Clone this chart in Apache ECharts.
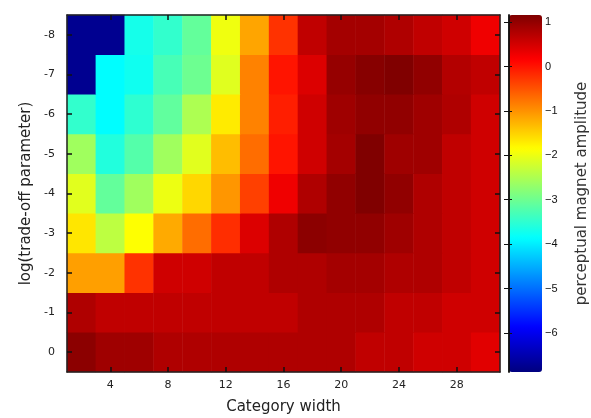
<!DOCTYPE html>
<html>
<head>
<meta charset="utf-8">
<script src="https://cdn.jsdelivr.net/npm/echarts@6/dist/echarts.min.js"></script>
<style>html,body{margin:0;padding:0;background:#fff;}#c{width:591px;height:418px;}</style>
</head>
<body>
<div id="c"></div>
<script>
// Category widths (column centres)
var widths = [2, 4, 6, 8, 10, 12, 14, 16, 18, 20, 22, 24, 26, 28, 30];
// log(trade-off parameter), bottom to top
var logParams = ['0', '-1', '-2', '-3', '-4', '-5', '-6', '-7', '-8'];
// rows of perceptual magnet amplitude, one array per log parameter
var row0  = [1.06, 0.91, 0.91, 0.78, 0.78, 0.78, 0.78, 0.78, 0.78, 0.78, 0.65, 0.65, 0.53, 0.53, 0.39];
var rowM1 = [0.78, 0.65, 0.65, 0.65, 0.65, 0.65, 0.65, 0.65, 0.78, 0.78, 0.78, 0.65, 0.65, 0.53, 0.53];
var rowM2 = [-1.1, -1.1, -0.24, 0.53, 0.53, 0.65, 0.65, 0.78, 0.78, 0.87, 0.87, 0.78, 0.78, 0.65, 0.53];
var rowM3 = [-1.66, -2.37, -1.86, -1.19, -0.71, -0.2, 0.43, 0.78, 1.06, 1.02, 1.02, 0.91, 0.78, 0.65, 0.53];
var rowM4 = [-2.09, -3.08, -2.6, -2.0, -1.54, -1.03, -0.35, 0.27, 0.78, 1.02, 1.15, 1.02, 0.78, 0.65, 0.53];
var rowM5 = [-2.6, -3.6, -3.2, -2.6, -2.09, -1.34, -0.71, 0.0, 0.53, 0.87, 1.15, 0.91, 0.91, 0.65, 0.53];
var rowM6 = [-3.47, -3.87, -3.5, -3.1, -2.5, -1.7, -0.87, -0.08, 0.53, 0.91, 1.02, 1.02, 0.91, 0.78, 0.53];
var rowM7 = [-6.75, -3.87, -3.75, -3.3, -3.0, -2.1, -0.87, 0.0, 0.43, 0.98, 1.1, 1.15, 1.02, 0.75, 0.65];
var rowM8 = [-6.75, -6.75, -3.7, -3.47, -3.08, -1.97, -1.15, -0.24, 0.65, 0.87, 0.87, 0.78, 0.65, 0.53, 0.27];
var rows = [row0, rowM1, rowM2, rowM3, rowM4, rowM5, rowM6, rowM7, rowM8];
// x tick labels shown
var xTickLabels = [4, 8, 12, 16, 20, 24, 28];
// colour bar range and ticks
var cMin = -6.88, cMax = 1.16;
var cTicks = [-6, -5, -4, -3, -2, -1, 0, 1];

var data = [];
rows.forEach(function (r, yi) {
  r.forEach(function (v, xi) { data.push([xi, yi, v]); });
});

function showX(idx, val) { return xTickLabels.indexOf(Number(val)) >= 0; }

var chart = echarts.init(document.getElementById('c'), null, {renderer: 'canvas'});
var axisFont = {fontFamily: 'DejaVu Sans, sans-serif', fontSize: 11, color: '#222'};
chart.setOption({
  animation: false,
  backgroundColor: '#fff',
  grid: [
    {left: 67, right: 91, top: 15, bottom: 46, outerBoundsMode: 'none', containLabel: false},
    {left: 509, width: 33, top: 15, bottom: 46, outerBoundsMode: 'none', containLabel: false}
  ],
  xAxis: [
    {type: 'category', gridIndex: 0, data: widths, position: 'bottom', z: 5,
     axisLine: {show: true, lineStyle: {color: '#222', width: 1.5}},
     axisTick: {show: true, inside: true, alignWithLabel: true, interval: showX, length: 5, lineStyle: {color: '#111', width: 1.5}},
     axisLabel: Object.assign({interval: showX, margin: 8}, axisFont),
     splitLine: {show: false},
     name: 'Category width', nameLocation: 'middle', nameGap: 28,
     nameTextStyle: {fontFamily: 'DejaVu Sans, sans-serif', fontSize: 15, color: '#222'}},
    {type: 'category', gridIndex: 0, data: widths, position: 'top', z: 5,
     axisLine: {show: true, lineStyle: {color: '#222', width: 1.5}},
     axisTick: {show: true, inside: true, alignWithLabel: true, interval: showX, length: 5, lineStyle: {color: '#111', width: 1.5}},
     axisLabel: {show: false}},
    {type: 'value', gridIndex: 1, min: 0, max: 1, show: false}
  ],
  yAxis: [
    {type: 'category', gridIndex: 0, data: logParams, position: 'left', z: 5,
     axisLine: {show: true, lineStyle: {color: '#222', width: 1.5}},
     axisTick: {show: true, inside: true, alignWithLabel: true, length: 5, lineStyle: {color: '#111', width: 1.5}},
     axisLabel: Object.assign({margin: 12}, axisFont),
     name: 'log(trade-off parameter)', nameLocation: 'middle', nameGap: 32, nameRotate: 90,
     nameTextStyle: {fontFamily: 'DejaVu Sans, sans-serif', fontSize: 15, color: '#222'}},
    {type: 'category', gridIndex: 0, data: logParams, position: 'right', z: 5,
     axisLine: {show: true, lineStyle: {color: '#222', width: 1.5}},
     axisTick: {show: true, inside: true, alignWithLabel: true, length: 5, lineStyle: {color: '#111', width: 1.5}},
     axisLabel: {show: false}},
    {type: 'value', gridIndex: 1, min: cMin, max: cMax, position: 'right', z: 10,
     axisLine: {show: true, lineStyle: {color: '#111', width: 1.5}},
     axisTick: {show: true, inside: true, length: 5, customValues: cTicks, lineStyle: {color: '#111', width: 1}},
     axisLabel: {customValues: cTicks, margin: 3, fontFamily: 'Liberation Sans, Arial, sans-serif', fontSize: 11, color: '#111',
                 formatter: function (v) { return String(v).replace('-', '\u2212'); }},
     splitLine: {show: false},
     name: 'perceptual magnet amplitude', nameLocation: 'middle', nameGap: 33, nameRotate: 90,
     nameTextStyle: {fontFamily: 'DejaVu Sans, sans-serif', fontSize: 15, color: '#333'}},
    {type: 'value', gridIndex: 1, min: cMin, max: cMax, position: 'left', z: 10,
     axisLine: {show: true, lineStyle: {color: '#111', width: 1.5}},
     axisTick: {show: true, inside: true, length: 3, customValues: cTicks, lineStyle: {color: '#111', width: 1}},
     axisLabel: {show: false}, splitLine: {show: false}}
  ],
  visualMap: {
    type: 'continuous', min: cMin, max: cMax, calculable: false, seriesIndex: 0,
    left: 509, top: 15, itemWidth: 33, itemHeight: 357, padding: 0,
    text: ['', ''], showLabel: false, hoverLink: false, realtime: false,
    inRange: {color: ['#00007F', '#0000FF', '#007FFF', '#00FFFF', '#7FFF7F', '#FFFF00', '#FF7F00', '#FF0000', '#7F0000']}
  },
  series: [{
    type: 'heatmap', xAxisIndex: 0, yAxisIndex: 0, data: data,
    itemStyle: {borderWidth: 0},
    emphasis: {disabled: true}
  }]
});
</script>
</body>
</html>
